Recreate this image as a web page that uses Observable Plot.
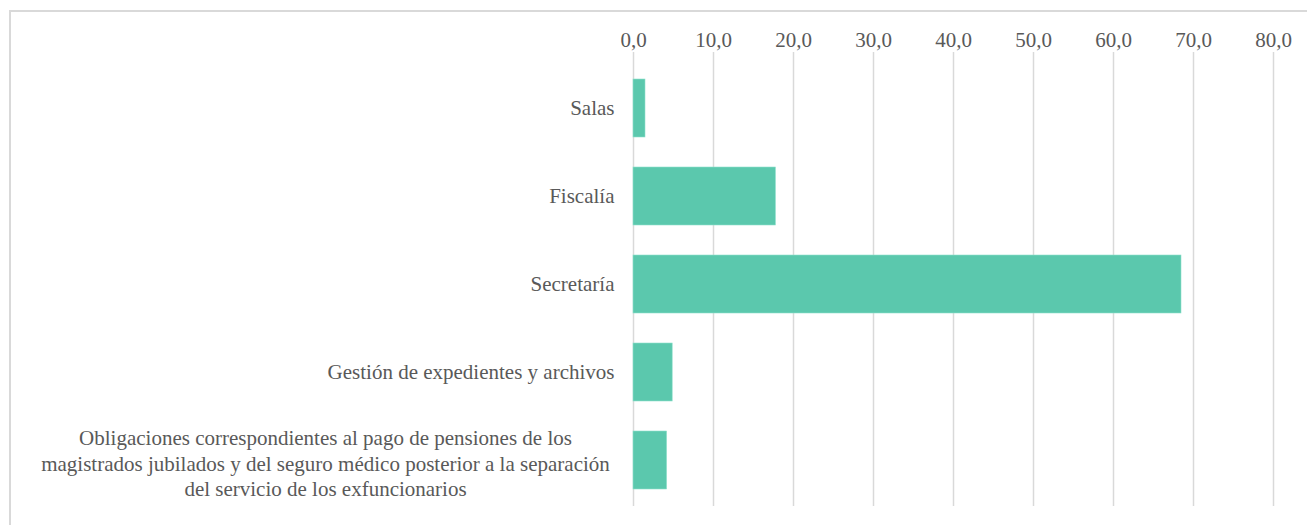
<!DOCTYPE html>
<html>
<head>
<meta charset="utf-8">
<script src="https://cdn.jsdelivr.net/npm/d3@7"></script>
<script src="https://cdn.jsdelivr.net/npm/@observablehq/plot@0.6"></script>
<style>
  html, body { margin: 0; padding: 0; background: #fff; overflow: hidden; }
  #frame { position: absolute; left: 9px; top: 10px; width: 1400px; height: 513px;
           border-top: 2px solid #d9d9d9; border-left: 2px solid #d9d9d9; }
  #chart { position: absolute; left: 0; top: 0; }
</style>
</head>
<body>
<div id="frame"></div>
<div id="chart"></div>
<script>
const categories = [
  "Salas",
  "Fiscalía",
  "Secretaría",
  "Gestión de expedientes y archivos",
  "Obligaciones correspondientes al pago de pensiones de los\nmagistrados jubilados y del seguro médico posterior a la separación\ndel servicio de los exfuncionarios"
];
const values = [1.5, 17.8, 68.5, 4.9, 4.2];
const xTicks = [0, 10, 20, 30, 40, 50, 60, 70, 80];

const data = categories.map((c, i) => ({category: c, value: values[i]}));
const fmt = d => d.toFixed(1).replace(".", ",");
const font = "Liberation Serif";
const fs = 21;

const chart = Plot.plot({
  width: 1307,
  height: 525,
  marginLeft: 633,
  marginRight: 34,
  marginTop: 52,
  marginBottom: 19,
  style: {fontSize: fs + "px", color: "#595959", background: "transparent"},
  x: {domain: [0, 80], axis: null, label: null},
  y: {domain: categories, paddingInner: 0.34, paddingOuter: 0.17, insetTop: 11, axis: null},
  marks: [
    Plot.gridX(xTicks, {stroke: "#d9d9d9", strokeOpacity: 1, strokeWidth: 1.5}),
    Plot.axisX(xTicks, {anchor: "top", label: null, tickSize: 0, tickPadding: 6, tickFormat: fmt,
      fill: "#595959", fontSize: fs}),
    Plot.barX(data, {x: "value", y: "category", fill: "#5BC8AD", stroke: "#8fe0cc", strokeWidth: 0.6}),
    Plot.text(data.filter(d => !d.category.includes("\n")), {
      y: "category", text: "category", frameAnchor: "left", textAnchor: "end", dx: -19,
      fill: "#595959", fontSize: fs
    }),
    Plot.text(data.filter(d => d.category.includes("\n")), {
      y: "category", text: "category", frameAnchor: "left", textAnchor: "middle", dx: -308,
      lineHeight: 1.214, dy: 2, fill: "#595959", fontSize: fs
    })
  ]
});
chart.setAttribute("font-family", font);
chart.style.fontFamily = font;
d3.select(chart).selectAll("g").attr("font-family", null);
d3.select(chart).selectAll("text, tspan").attr("font-family", font).style("font-family", font);
document.getElementById("chart").append(chart);
</script>
</body>
</html>
